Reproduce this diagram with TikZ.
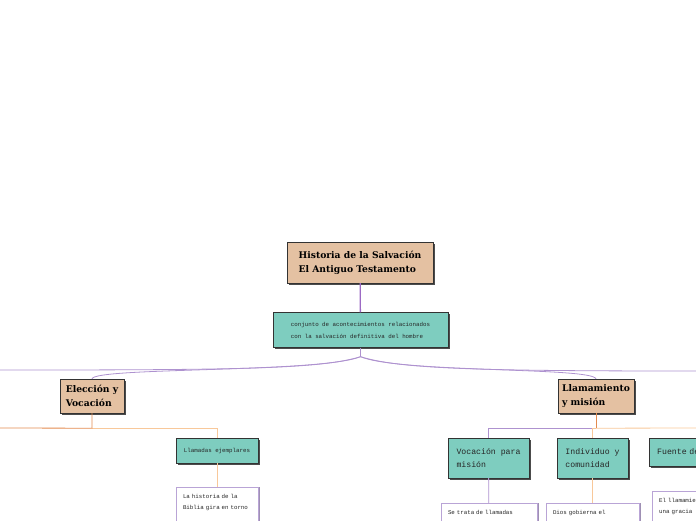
\documentclass[tikz,border=0pt]{standalone}
\usepackage{fontspec}
\usepackage{tikz}
\usetikzlibrary{shadows}
\newfontfamily\topicfont{DejaVu Serif}
\newfontfamily\notefont{Liberation Mono}
\definecolor{TopicTan}{HTML}{E4C1A2}
\definecolor{NoteTeal}{HTML}{7ECDBF}
\definecolor{StemPurple}{HTML}{9C6AC4}
\definecolor{LinePurple}{HTML}{AE92CF}
\definecolor{LineEmber}{HTML}{E38B4F}
\definecolor{LineApricot}{HTML}{F8C89A}
\definecolor{LeafPurple}{HTML}{B9A4D6}

\begin{document}
\begin{tikzpicture}[
    x=1pt, y=-1pt,
    topicbox/.style={draw=black!80, fill=TopicTan, align=left, inner sep=0pt,
        font=\topicfont\bfseries\fontsize{9.2}{14}\selectfont,
        drop shadow={shadow xshift=1.8pt, shadow yshift=-1.8pt, fill=black!70, opacity=1}},
    notebox/.style={draw=black!80, fill=NoteTeal, align=left, inner sep=0pt, text=black!85,
        font=\notefont\fontsize{5.8}{12}\selectfont,
        drop shadow={shadow xshift=1.8pt, shadow yshift=-1.8pt, fill=black!70, opacity=1}},
    bignote/.style={notebox, font=\notefont\fontsize{8.2}{12.5}\selectfont},
    leafbox/.style={draw=LeafPurple, fill=white, align=left, anchor=north, text=black!85,
        inner xsep=7pt, inner ysep=7pt, text depth=45pt,
        font=\notefont\fontsize{5.8}{11}\selectfont,
        drop shadow={shadow xshift=1.8pt, shadow yshift=0pt, fill=LeafPurple!80!black!90, opacity=1}},
    stem/.style={StemPurple, line width=1.3pt},
    branch/.style={LinePurple, line width=0.8pt},
    ember/.style={LineEmber, line width=0.8pt},
    apricot/.style={LineApricot, line width=0.8pt}
]
\useasboundingbox (0,0) rectangle (696,520);

\node[topicbox, minimum width=146pt, minimum height=41pt] (root) at (360,262.5) {Historia de la Salvación\\El Antiguo Testamento};
\node[notebox, minimum width=175pt, minimum height=35pt] (event) at (360.5,330) {conjunto de acontecimientos relacionados\\con la salvación definitiva del hombre};

\node[topicbox, minimum width=64pt, minimum height=34pt] (elec) at (92,396) {Elección y\\Vocación};
\node[topicbox, minimum width=76pt, minimum height=34pt] (llam) at (596,396) {Llamamiento\\y misión};

\node[notebox, minimum width=82pt, minimum height=25pt] (ejemplo) at (217,450.5) {Llamadas ejemplares};
\node[bignote, minimum width=81pt, minimum height=40pt] (vocacion) at (488.5,458) {Vocación para\\misión};
\node[bignote, minimum width=71pt, minimum height=40pt] (indiv) at (592.5,458) {Individuo y\\comunidad};
\node[bignote, anchor=west, text width=64pt, inner xsep=8pt, minimum height=28pt] (fuente) at (649,452) {Fuente de};

\node[leafbox, text width=68pt] (biblia) at (217,487) {La historia de la\\Biblia gira en torno};
\node[leafbox, text width=82pt, inner xsep=7pt] (trata) at (489,503) {Se trata de llamadas};
\node[leafbox, text width=79pt] (dios) at (592.5,503) {Dios gobierna el};
\node[leafbox, anchor=north west, text width=70pt] (gracia) at (652,491) {El llamamiento\\una gracia};

% trunk and first fork
\coordinate (fork) at ([yshift=-9pt]event.south);
\coordinate (farleft) at (0,370);
\coordinate (farright) at (696,371);
\draw[stem] (root) -- (event);
\draw[branch] (event) -- (fork);
\draw[branch] (fork) .. controls (320,369) and (240,370) .. (farleft);
\draw[branch] (fork) .. controls (320,373) and (95,367) .. (elec.north);
\draw[branch] (fork) .. controls (400,373) and (592,367) .. (llam.north);
\draw[branch] (fork) .. controls (400,369) and (480,371) .. (farright);

% Eleccion y Vocacion
\coordinate (ejoin) at ([yshift=-15pt]elec.south);
\coordinate (eleft) at (0,428);
\draw[apricot] (ejoin) -| (ejemplo);
\draw[ember] (elec) -- (ejoin) -- (eleft);
\draw[apricot] (ejemplo) -- (biblia);

% Llamamiento y mision
\coordinate (ljoin) at ([yshift=-15pt]llam.south);
\coordinate (lright) at (696,428);
\draw[branch] (ljoin) -| (vocacion);
\draw[apricot] (ljoin) -| (indiv);
\draw[apricot] (ljoin) -- (lright);
\draw[ember] (llam) -- (ljoin);
\draw[branch] (vocacion) -- (trata);
\draw[apricot] (indiv) -- (dios);
\end{tikzpicture}
\end{document}
